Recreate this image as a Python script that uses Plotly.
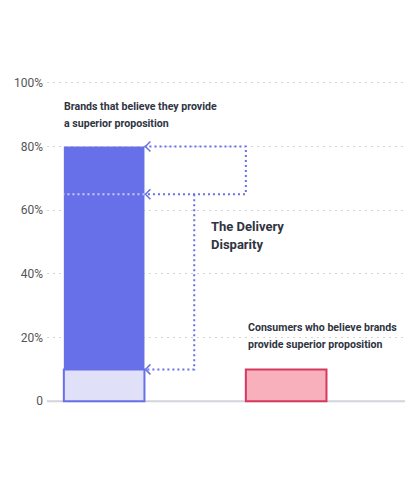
import plotly.graph_objects as go

# data
groups = ["Brands", "Consumers"]
brand_value = 80
brand_overlap = 10
consumer_value = 10
bracket_level = 65
tick_values = [0, 20, 40, 60, 80, 100]
tick_labels = ["0", "20%", "40%", "60%", "80%", "100%"]

brand_label = ["Brands that believe they provide", "a superior proposition"]
consumer_label = ["Consumers who believe brands", "provide superior proposition"]
gap_label = ["The Delivery", "Disparity"]

BLUE = "#6770E8"
BLUE_LIGHT = "#E0E1F9"
PINK = "#F8B0BC"
PINK_EDGE = "#D6395E"
TEXT = "#2F3442"

# page has an 8px body margin, so the figure is a bit smaller than the window
W, H = 403, 469
ML, MR, MT, MB = 37, 6, 70, 71
XR = [-0.314, 1.653]
YR = [-1.5, 101.5]
px_x = (XR[1] - XR[0]) / (W - ML - MR)
px_y = (YR[1] - YR[0]) / (H - MT - MB)

bw = 0.443
edge = bw / 2
mid = 0.495
right = 1 - bw / 2

fig = go.Figure()

# brand bar: light bottom + solid top
fig.add_bar(x=[0], y=[brand_overlap], width=bw, marker=dict(color=BLUE_LIGHT, line=dict(color=BLUE, width=2)))
fig.add_bar(x=[0], y=[brand_value - brand_overlap], base=[brand_overlap], width=bw,
            marker=dict(color=BLUE, line=dict(color=BLUE, width=0)))
# consumer bar
fig.add_bar(x=[1], y=[consumer_value], width=bw, marker=dict(color=PINK, line=dict(color=PINK_EDGE, width=2)))

dots = dict(color=BLUE, width=2, dash="2px,3px")
# bracket between 80 and 65
fig.add_scatter(x=[edge, right, right, edge], y=[brand_value, brand_value, bracket_level, bracket_level],
                mode="lines", line=dots)
# the 65 line carries on across the bar in a pale tint
fig.add_scatter(x=[edge, -edge], y=[bracket_level, bracket_level], mode="lines",
                line=dict(color="#C9CCF7", width=2, dash="2px,3px"))
# drop to the consumer level
fig.add_scatter(x=[mid, mid, edge], y=[bracket_level, consumer_value, consumer_value], mode="lines", line=dots)

# arrow heads
for lvl in [brand_value, bracket_level, consumer_value]:
    fig.add_scatter(x=[edge + 6 * px_x, edge + 1 * px_x, edge + 6 * px_x],
                    y=[lvl + 5 * px_y, lvl, lvl - 5 * px_y],
                    mode="lines", line=dict(color=BLUE, width=1.5))

ann = []
def label(lines, x, ys, size):
    for t, y in zip(lines, ys):
        ann.append(dict(x=x, y=y, text="<b>" + t + "</b>", showarrow=False, xanchor="left", yanchor="middle",
                        font=dict(size=size, color=TEXT, family="Roboto")))

label(brand_label, -0.232, [92.5, 87.1], 10.6)
label(gap_label, 0.577, [55.0, 49.1], 13)
label(consumer_label, 0.779, [23.0, 17.9], 10.6)

fig.update_layout(
    width=W, height=H,
    margin=dict(l=ML, r=MR, t=MT, b=MB),
    plot_bgcolor="white", paper_bgcolor="white",
    showlegend=False, barmode="overlay",
    annotations=ann,
    font=dict(family="Roboto", color="#555"),
    xaxis=dict(range=XR, visible=False),
    yaxis=dict(range=YR, tickvals=tick_values, ticktext=tick_labels, tickfont=dict(size=12, color="#555"),
               showgrid=True, gridcolor="#D5D5D5", griddash="2px,4px", gridwidth=1,
               zeroline=False, showline=False, ticks="", ticklabelstandoff=3),
    shapes=[dict(type="line", xref="paper", yref="y", x0=0, x1=1, y0=0, y1=0,
                 line=dict(color="#D2D3DB", width=2), layer="below")],
)

fig.write_html("out.html")
